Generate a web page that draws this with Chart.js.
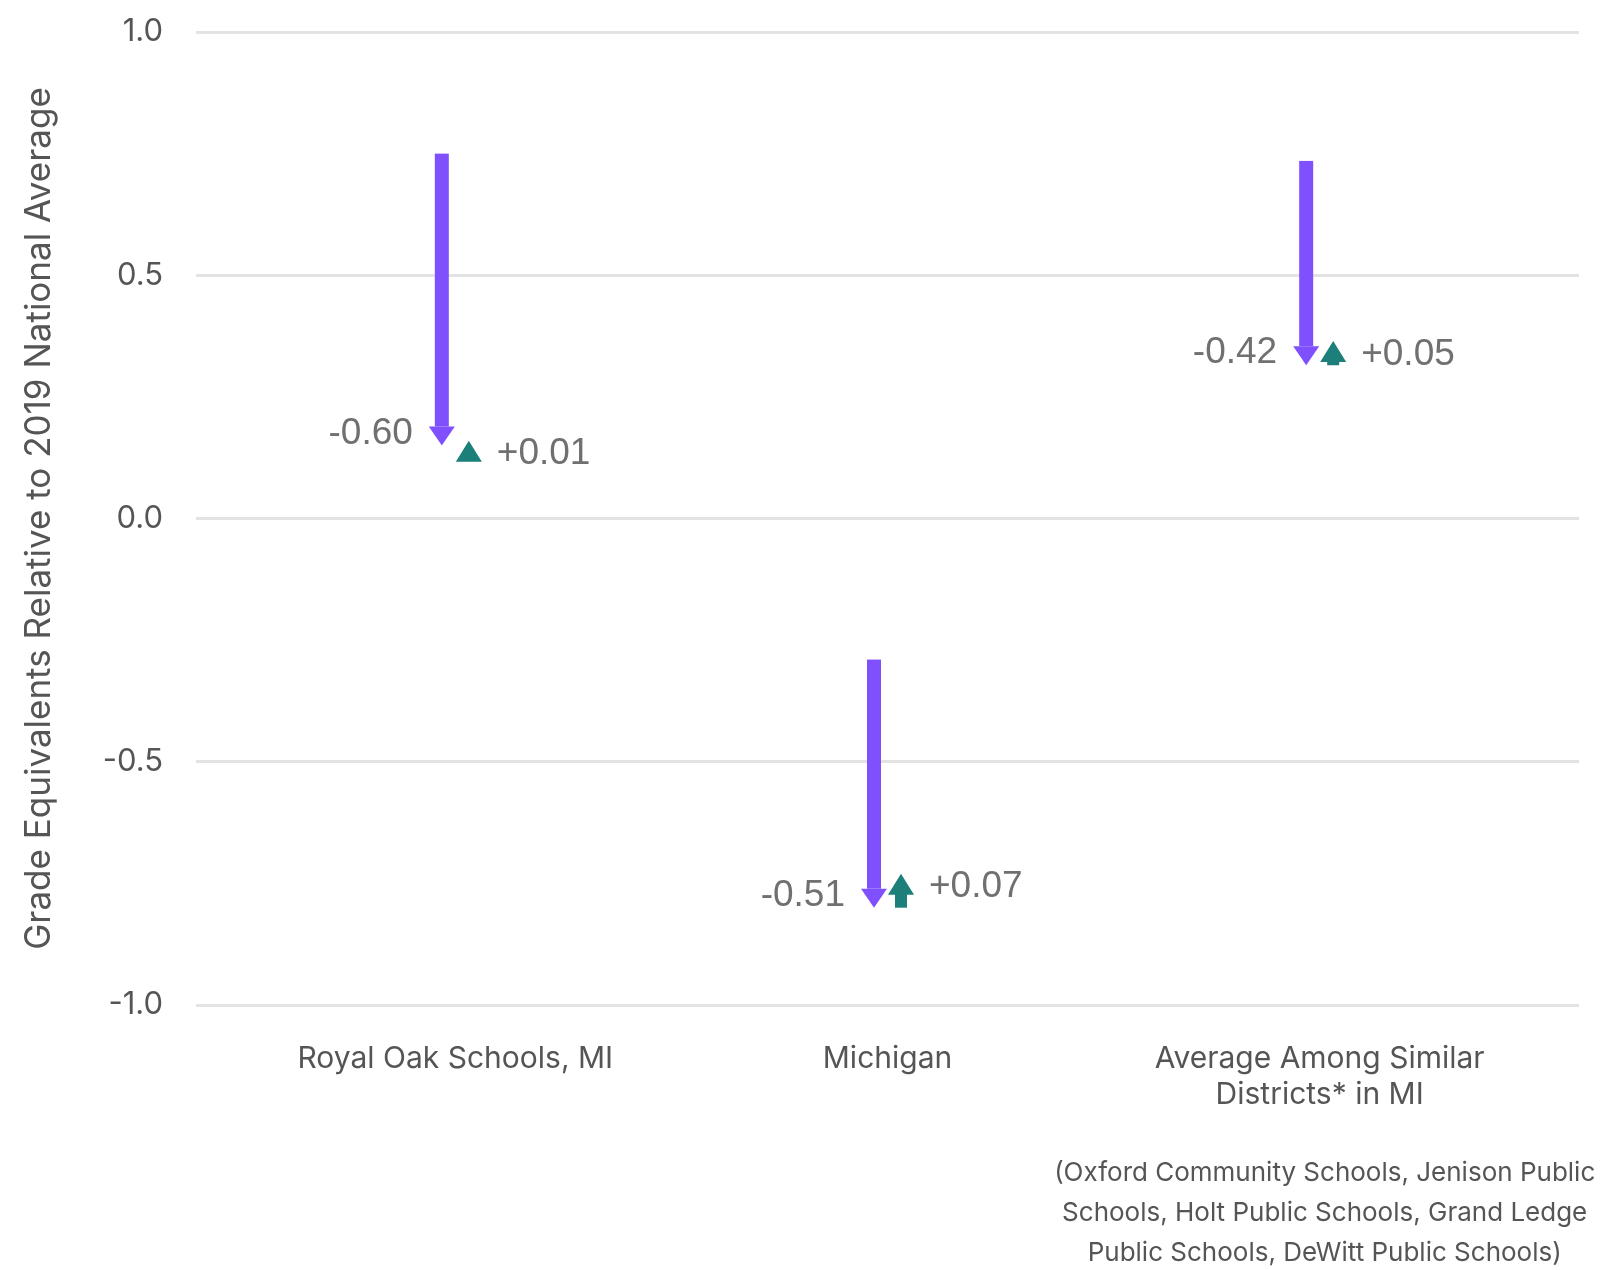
<!DOCTYPE html>
<html>
<head>
<meta charset="utf-8">
<script src="https://cdn.jsdelivr.net/npm/chart.js@4.4.1/dist/chart.umd.min.js"></script>
<style>
  html, body { margin: 0; padding: 0; background: #fff; }
  #wrap { width: 1600px; height: 1270px; position: relative; }
</style>
</head>
<body>
<div id="wrap"><canvas id="gapChart"></canvas></div>
<script>
// ── Data ──
const categories = ['Royal Oak Schools, MI', 'Michigan', ['Average Among Similar', 'Districts* in MI']];
const start2019 = [0.75, -0.29, 0.735];   // before the drop
const afterDrop = [0.15, -0.80, 0.315];    // bottom of the purple arrow
const recovery = [0.01, 0.07, 0.05];       // green arrow
const yTicks = [1.0, 0.5, 0.0, -0.5, -1.0];
const footnote = ['(Oxford Community Schools, Jenison Public', 'Schools, Holt Public Schools, Grand Ledge', 'Public Schools, DeWitt Public Schools)'];

const PURPLE = '#8050ff';
const TEAL = '#1c7f7a';
const LABEL = '#707070';
const AXIS = '#555555';
const FONT = 'Inter, "Noto Sans", sans-serif';

const fmt = v => (v > 0 ? '+' : '') + v.toFixed(2);

// ── Arrows + labels drawn from the scales ──
const arrowPlugin = {
  id: 'arrows',
  afterDatasetsDraw(chart) {
    const { ctx, scales: { x, y } } = chart;
    ctx.save();
    categories.forEach((c, i) => {
      const cx = x.getPixelForValue(i);
      const px = cx - 13.5, gx = cx + 13.5;
      const ys = y.getPixelForValue(start2019[i]);
      const ye = y.getPixelForValue(afterDrop[i]);
      // purple drop arrow
      const pHead = 19;
      ctx.fillStyle = PURPLE;
      ctx.fillRect(px - 7, ys, 14, ye - pHead - ys);
      ctx.beginPath();
      ctx.moveTo(px - 13, ye - pHead);
      ctx.lineTo(px + 13, ye - pHead);
      ctx.lineTo(px, ye);
      ctx.closePath();
      ctx.fill();
      // green recovery arrow
      const gHead = 21;
      const gt = y.getPixelForValue(afterDrop[i] + recovery[i]);
      ctx.fillStyle = TEAL;
      if (ye > gt + gHead) ctx.fillRect(gx - 6, gt + gHead - 1, 12, ye - gt - gHead + 1);
      ctx.beginPath();
      ctx.moveTo(gx - 13, gt + gHead);
      ctx.lineTo(gx + 13, gt + gHead);
      ctx.lineTo(gx, gt);
      ctx.closePath();
      ctx.fill();
      // labels
      ctx.fillStyle = LABEL;
      ctx.font = '37px "Liberation Sans", Arial, sans-serif';
      ctx.textBaseline = 'middle';
      ctx.textAlign = 'right';
      ctx.fillText(fmt(afterDrop[i] - start2019[i]), px - 29, ye - 12);
      ctx.textAlign = 'left';
      ctx.fillText(fmt(recovery[i]), gx + 28, gt + gHead / 2 + 3);
    });
    // footnote under the third category
    ctx.fillStyle = AXIS;
    ctx.font = '26px ' + FONT;
    ctx.textAlign = 'center';
    ctx.textBaseline = 'middle';
    const fx = x.getPixelForValue(2) + 5;
    footnote.forEach((line, k) => ctx.fillText(line, fx, 1173 + k * 40));
    ctx.restore();
  }
};

new Chart(document.getElementById('gapChart'), {
  type: 'bar',
  data: {
    datasets: [
      { label: 'Drop', data: start2019.map((s, i) => ({ x: i, y: [s, afterDrop[i]] })), backgroundColor: 'rgba(0,0,0,0)' },
      { label: 'Recovery', data: afterDrop.map((e, i) => ({ x: i, y: [e, e + recovery[i]] })), backgroundColor: 'rgba(0,0,0,0)' }
    ]
  },
  plugins: [arrowPlugin],
  options: {
    responsive: true,
    maintainAspectRatio: false,
    animation: false,
    devicePixelRatio: 1,
    grouped: false,
    layout: { padding: { top: 32, right: 21, left: 0, bottom: 0 } },
    plugins: { legend: { display: false }, tooltip: { enabled: false } },
    scales: {
      x: {
        type: 'linear',
        offset: false,
        min: -0.6,
        max: 2.6,
        afterBuildTicks: s => { s.ticks = categories.map((c, i) => ({ value: i })); },
        afterFit: s => { s.height = 265; s.paddingLeft = 0; s.paddingRight = 0; },
        grid: { display: false, drawTicks: false },
        border: { display: false },
        ticks: {
          callback: v => categories[v],
          color: AXIS,
          padding: 36,
          maxRotation: 0,
          autoSkip: false,
          font: { family: FONT, size: 30, lineHeight: 1.2 }
        }
      },
      y: {
        min: -1,
        max: 1,
        afterBuildTicks: s => { s.ticks = yTicks.map(v => ({ value: v })); },
        afterFit: s => { s.width = 196; s.paddingTop = 0; s.paddingBottom = 0; },
        grid: { color: '#e3e3e3', lineWidth: 3, drawTicks: false },
        border: { display: false },
        ticks: {
          callback: v => v.toFixed(1),
          color: AXIS,
          padding: 33,
          font: { family: FONT, size: 31 }
        },
        title: {
          display: true,
          text: 'Grade Equivalents Relative to 2019 National Average',
          color: AXIS,
          padding: { top: 18, bottom: 0 },
          font: { family: FONT, size: 35, lineHeight: 1.2 }
        }
      }
    }
  }
});
</script>
</body>
</html>
